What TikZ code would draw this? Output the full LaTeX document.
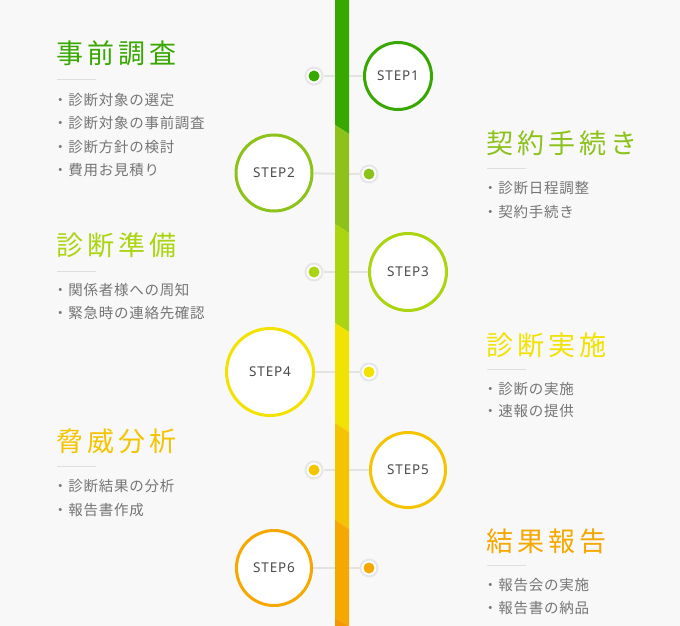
\documentclass[tikz,border=0pt]{standalone}
\usepackage{fontspec}
\setmainfont{Noto Sans CJK JP}
\newfontfamily\jpfont{Noto Sans CJK JP}
\newfontfamily\headfont[LetterSpace=15]{Noto Sans CJK JP}
\newfontfamily\listfont[LetterSpace=5]{Noto Sans CJK JP}
\newfontfamily\stepfont[LetterSpace=6]{Noto Sans}
\usetikzlibrary{backgrounds}

\definecolor{bgcol}{HTML}{F8F8F8}
\definecolor{linkcol}{HTML}{E3E3E3}
\definecolor{ringcol}{HTML}{E6E6E6}
\definecolor{listcol}{HTML}{757575}
\definecolor{sone}{HTML}{38A800}
\definecolor{stwo}{HTML}{8CC21A}
\definecolor{sthree}{HTML}{AAD510}
\definecolor{sfour}{HTML}{F2E200}
\definecolor{sfive}{HTML}{F5C400}
\definecolor{ssix}{HTML}{F5A800}
\definecolor{sseven}{HTML}{F39800}

\begin{document}
\begin{tikzpicture}[
    x=1pt, y=-1pt,
    stepcircle/.style={circle, draw=#1, line width=3pt, fill=white, inner sep=0pt,
        text=black!70, font=\stepfont\fontsize{13.5}{15}\selectfont},
    dot/.style={circle, draw=ringcol, line width=2pt, fill=white, minimum size=17pt, inner sep=0pt,
        path picture={\fill[#1] (path picture bounding box.center) circle (5.5pt);}},
    link/.style={draw=linkcol, line width=2pt},
    heading/.style={anchor=west, inner sep=0pt, text=#1, font=\headfont\fontsize{27}{30}\selectfont},
    item/.style={anchor=west, inner sep=0pt, text=listcol, font=\listfont\fontsize{14.5}{16}\selectfont},
    rule/.style={draw=black!13, line width=1pt}
]
\useasboundingbox (0,0) rectangle (680,626);

% steps and dots
\node[stepcircle=sone, minimum size=67pt] (s1) at (398,76) {STEP1};
\node[dot=sone] (d1) at (314,76) {};
\node[stepcircle=stwo, minimum size=76pt] (s2) at (274,173) {STEP2};
\node[dot=stwo] (d2) at (369,174) {};
\node[stepcircle=sthree, minimum size=77pt] (s3) at (408,272) {STEP3};
\node[dot=sthree] (d3) at (314,272) {};
\node[stepcircle=sfour, minimum size=87pt] (s4) at (270,372) {STEP4};
\node[dot=sfour] (d4) at (369,372) {};
\node[stepcircle=sfive, minimum size=75pt] (s5) at (408,470) {STEP5};
\node[dot=sfive] (d5) at (314,470) {};
\node[stepcircle=ssix, minimum size=75pt] (s6) at (274,568) {STEP6};
\node[dot=ssix] (d6) at (369,568) {};

% left column
\node[heading=sone] (t1) at (56,53) {事前調査};
\draw[rule] (57,80) -- (96,80);
\node[item] (i11) at (53,100) {・診断対象の選定};
\node[item] (i12) at (53,123.5) {・診断対象の事前調査};
\node[item] (i13) at (53,147) {・診断方針の検討};
\node[item] (i14) at (53,170.5) {・費用お見積り};

\node[heading=sthree] (t3) at (56,245) {診断準備};
\draw[rule] (57,271) -- (96,271);
\node[item] (i31) at (53,290) {・関係者様への周知};
\node[item] (i32) at (53,313) {・緊急時の連絡先確認};

\node[heading=sfive] (t5) at (56,441) {脅威分析};
\draw[rule] (57,466) -- (96,466);
\node[item] (i51) at (53,486) {・診断結果の分析};
\node[item] (i52) at (53,510) {・報告書作成};

% right column
\node[heading=stwo] (t2) at (486,143) {契約手続き};
\draw[rule] (487,168) -- (526,168);
\node[item] (i21) at (483,188) {・診断日程調整};
\node[item] (i22) at (483,212) {・契約手続き};

\node[heading=sfour] (t4) at (486,345) {診断実施};
\draw[rule] (487,369) -- (526,369);
\node[item] (i41) at (483,389) {・診断の実施};
\node[item] (i42) at (483,411) {・速報の提供};

\node[heading=ssix] (t6) at (486,541) {結果報告};
\draw[rule] (487,565) -- (526,565);
\node[item] (i61) at (483,585) {・報告会の実施};
\node[item] (i62) at (483,608) {・報告書の納品};

\begin{scope}[on background layer]
\fill[bgcol] (0,0) rectangle (680,626);
\draw[link] (d1) -- (s1);
\draw[link] (s2) -- (d2);
\draw[link] (d3) -- (s3);
\draw[link] (s4) -- (d4);
\draw[link] (d5) -- (s5);
\draw[link] (s6) -- (d6);
% timeline bar
\fill[sone] (335,0) -- (349,0) -- (349,134) -- (335,125) -- cycle;
\fill[stwo] (335,125) -- (349,134) -- (349,233) -- (335,224) -- cycle;
\fill[sthree] (335,224) -- (349,233) -- (349,332) -- (335,323) -- cycle;
\fill[sfour] (335,323) -- (349,332) -- (349,432) -- (335,423) -- cycle;
\fill[sfive] (335,423) -- (349,432) -- (349,529) -- (335,520) -- cycle;
\fill[ssix] (335,520) -- (349,529) -- (349,626) -- (335,618) -- cycle;
\fill[sseven] (335,618) -- (349,626) -- (335,626) -- cycle;
\end{scope}
\end{tikzpicture}
\end{document}
